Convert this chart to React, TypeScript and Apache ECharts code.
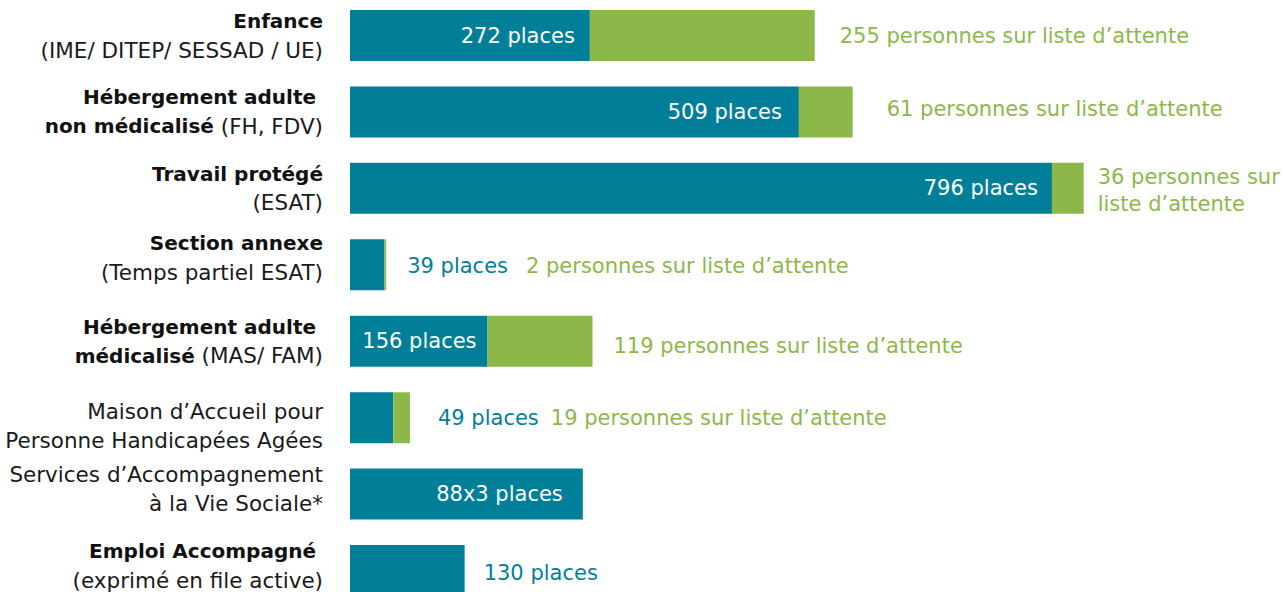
import React, { useEffect, useRef } from "react";
import * as echarts from "echarts";

// ---- data ----
const categoryLabels = [
  "{b|Enfance}\n{n|(IME/ DITEP/ SESSAD / UE)}",
  "{b|Hébergement adulte }\n{b|non médicalisé}{n| (FH, FDV)}",
  "{b|Travail protégé}\n{n|(ESAT)}",
  "{b|Section annexe}\n{n|(Temps partiel ESAT)}",
  "{b|Hébergement adulte }\n{b|médicalisé}{n| (MAS/ FAM)}",
  "{n|Maison d’Accueil pour}\n{n|Personne Handicapées Agées}",
  "{n|Services d’Accompagnement}\n{n|à la Vie Sociale*}",
  "{b|Emploi Accompagné }\n{n|(exprimé en file active)}",
];
const places = [272, 509, 796, 39, 156, 49, 264, 130];
const placesText = [
  "272 places",
  "509 places",
  "796 places",
  "39 places",
  "156 places",
  "49 places",
  "88x3 places",
  "130 places",
];
const waiting: (number | null)[] = [255, 61, 36, 2, 119, 19, null, null];
const waitingText = [
  "255 personnes sur liste d’attente",
  "61 personnes sur liste d’attente",
  "36 personnes sur\nliste d’attente",
  "2 personnes sur liste d’attente",
  "119 personnes sur liste d’attente",
  "19 personnes sur liste d’attente",
  "",
  "",
];

const TEAL = "#017f99";
const GREEN = "#8cb84a";
const FONT = "DejaVu Sans";

// placement of the place-count label: inside the bar, or outside beside the waiting label
const placesInside = [true, true, true, false, true, false, true, false];
const insideDist = [15, 17, 14, 0, 11, 0, 20, 0];
const outsideDist = [25, 34, 14, 21, 21, 28, 0, 19];
const outsideOffsetY = [0, -3, 2, 1, 5, 0, 0, 3];
const gapAfterPlaces = [0, 0, 0, 18, 0, 12, 0, 0];
const labelPad: number[][] = [
  [0, 0, 0, 0],
  [0, 0, 0, 0],
  [0, 0, 0, 0],
  [0, 0, 14, 0],
  [0, 0, 0, 0],
  [16, 0, 0, 0],
  [0, 0, 10, 0],
  [0, 0, 9, 0],
];

export default function App() {
  const ref = useRef<HTMLDivElement>(null);
  useEffect(() => {
    if (!ref.current) return;
    const chart = echarts.init(ref.current, null, { renderer: "svg" });

    const tealData = places.map((v, i) => {
      let label: any = { show: false };
      if (placesInside[i]) {
        label = {
          show: true,
          position: "insideRight",
          distance: insideDist[i],
          formatter: placesText[i],
          color: "#ffffff",
          fontSize: 21,
          fontFamily: FONT,
        };
      } else if (waiting[i] == null) {
        label = {
          show: true,
          position: "right",
          distance: outsideDist[i],
          offset: [0, outsideOffsetY[i]],
          formatter: placesText[i],
          color: TEAL,
          fontSize: 21,
          fontFamily: FONT,
        };
      }
      return { value: v, label };
    });

    const greenData = waiting.map((v, i) => {
      if (v == null) return { value: "-" as any };
      const formatter = placesInside[i]
        ? "{w|" + waitingText[i] + "}"
        : "{p|" + placesText[i] + "}{w|" + waitingText[i] + "}";
      return {
        value: v,
        label: {
          show: true,
          position: "right",
          distance: outsideDist[i],
          offset: [0, outsideOffsetY[i]],
          formatter,
          align: "left",
          rich: {
            w: { color: GREEN, fontSize: 21, fontFamily: FONT, lineHeight: 27 },
            p: {
              color: TEAL,
              fontSize: 21,
              fontFamily: FONT,
              lineHeight: 27,
              padding: [0, gapAfterPlaces[i], 0, 0],
            },
          },
        },
      };
    });

    chart.setOption({
      animation: false,
      grid: {
        left: 350,
        right: 0,
        top: -2.7,
        height: 611.4,
        containLabel: false,
        outerBoundsMode: "none",
      },
      xAxis: {
        type: "value",
        min: 0,
        max: 1058,
        show: false,
      },
      yAxis: {
        type: "category",
        inverse: true,
        data: categoryLabels.map((c, i) => ({
          value: c,
          textStyle: { padding: labelPad[i] },
        })),
        axisLine: { show: false },
        axisTick: { show: false },
        splitLine: { show: false },
        axisLabel: {
          margin: 27,
          align: "right",
          fontFamily: FONT,
          fontSize: 20,
          color: "#111111",
          lineHeight: 29,
          rich: {
            b: { fontWeight: "bold", fontSize: 20, fontFamily: FONT, color: "#111111", lineHeight: 29 },
            n: { fontWeight: "normal", fontSize: 21.5, fontFamily: FONT, color: "#1a1a1a", lineHeight: 29 },
          },
        },
      },
      series: [
        {
          type: "bar",
          stack: "total",
          barWidth: 51,
          itemStyle: { color: TEAL },
          data: tealData,
        },
        {
          type: "bar",
          stack: "total",
          barWidth: 51,
          itemStyle: { color: GREEN },
          data: greenData,
        },
      ],
    });
    return () => chart.dispose();
  }, []);

  return (
    <div
      ref={ref}
      style={{ position: "absolute", left: 0, top: 0, width: 1283, height: 592, background: "#ffffff" }}
    />
  );
}
